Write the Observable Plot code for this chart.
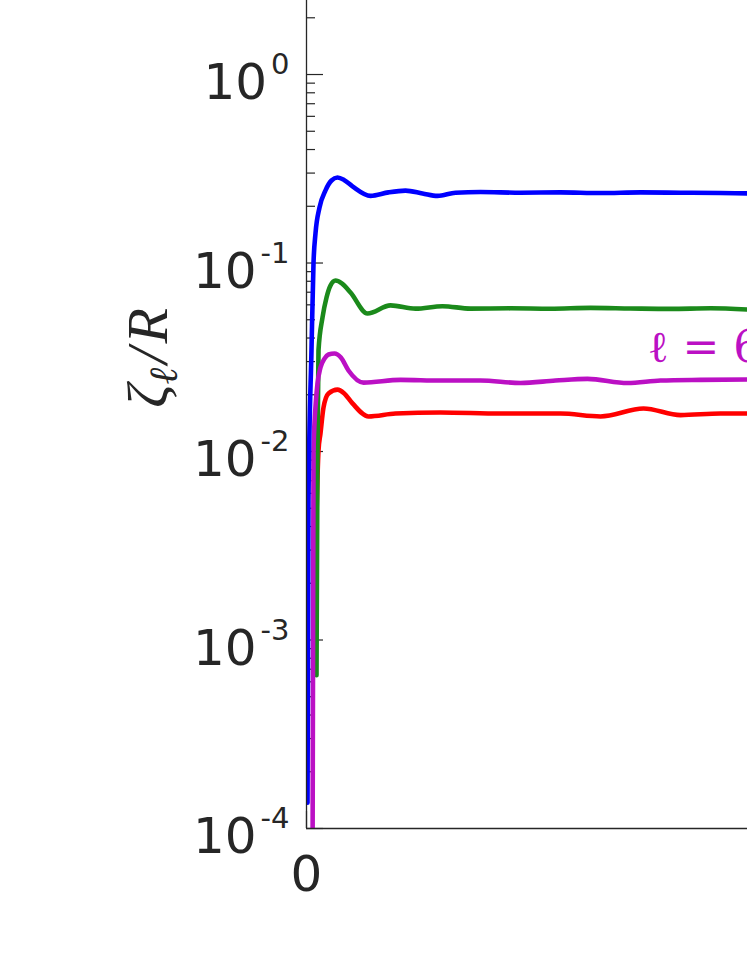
<!DOCTYPE html>
<html><head><meta charset="utf-8">
<script src="https://cdn.jsdelivr.net/npm/d3@7"></script>
<script src="https://cdn.jsdelivr.net/npm/@observablehq/plot@0.6"></script>
<style>html,body{margin:0;padding:0;background:#fff;overflow:hidden;}</style>
</head><body><div id="chart"></div>
<script>
// ---- data ----
const xDomain = [0, 10];
const yDomain = [1e-4, 2.47];
const decades = [1e-4, 1e-3, 1e-2, 1e-1, 1];
const minorMultipliers = [2, 3, 4, 5, 6, 7, 8, 9];
const xTicks = [0];
const xTickLabels = ["0"];

const seriesNames = ["s_red", "s_green", "s_magenta", "s_blue"];
const seriesColors = ["#ff0000", "#1b8a1b", "#bb10c4", "#0000ff"];

const blueT = [0.023, 0.045, 0.113, 0.159, 0.204, 0.295, 0.431, 0.567, 0.703, 0.85, 1.043, 1.451, 1.859, 2.245, 2.630, 2.971, 3.379, 3.946, 4.853, 5.760, 6.667, 7.574, 8.481, 9.388, 10];
const blueV = [1.37e-4, 5.5e-3, 0.0344, 0.1, 0.1436, 0.197, 0.243, 0.274, 0.284, 0.276, 0.255, 0.227, 0.237, 0.242, 0.234, 0.227, 0.236, 0.238, 0.236, 0.237, 0.235, 0.237, 0.236, 0.235, 0.234];

const greenT = [0.227, 0.249, 0.272, 0.363, 0.454, 0.544, 0.658, 0.80, 0.998, 1.383, 1.905, 2.472, 3.084, 3.719, 4.626, 5.533, 6.440, 7.347, 8.254, 9.161, 10];
const greenV = [6.5e-4, 0.0101, 0.0344, 0.0514, 0.0656, 0.076, 0.0807, 0.078, 0.0698, 0.054, 0.0596, 0.0573, 0.059, 0.0573, 0.0575, 0.0572, 0.0578, 0.0574, 0.0571, 0.0575, 0.0567];

const magentaT = [0.136, 0.159, 0.215, 0.249, 0.317, 0.408, 0.499, 0.635, 0.78, 0.952, 1.293, 2.132, 3.039, 3.946, 4.853, 5.646, 6.372, 7.279, 8.027, 8.934, 10];
const magentaV = [5e-5, 0.0101, 0.0187, 0.0229, 0.0279, 0.0311, 0.0327, 0.0331, 0.0315, 0.0269, 0.0232, 0.0240, 0.0238, 0.0238, 0.0231, 0.0238, 0.0243, 0.0231, 0.0238, 0.0240, 0.0241];

const redT = [0.204, 0.272, 0.317, 0.385, 0.499, 0.703, 0.85, 1.043, 1.406, 2.018, 3.039, 4.399, 5.760, 6.667, 7.642, 8.481, 9.388, 10];
const redV = [2.64e-3, 0.0101, 0.01246, 0.0171, 0.0203, 0.0213, 0.0204, 0.0180, 0.01535, 0.0159, 0.0161, 0.0159, 0.0159, 0.01535, 0.0169, 0.0156, 0.0159, 0.0159];

const annotText = ["ℓ = 6"];
const annotX = [7.73];
const annotY = [0.0355];

// ---- build tables ----
const seriesData = {s_red: [redT, redV], s_green: [greenT, greenV], s_magenta: [magentaT, magentaV], s_blue: [blueT, blueV]};
const rows = seriesNames.flatMap(name => seriesData[name][0].map((t, i) => ({t, v: seriesData[name][1][i], s: name})));
const minorTicks = decades.flatMap(d => minorMultipliers.map(m => m * d)).filter(v => v <= yDomain[1]);
const annots = annotText.map((text, i) => ({text, t: annotX[i], v: annotY[i]}));

const W = 747, H = 967, mL = 306, mB = 139;
const plotW = W - mL, plotH = H - mB;
const ink = "#262626";

const chart = Plot.plot({
  width: W, height: H,
  marginLeft: mL, marginRight: 0, marginTop: 0, marginBottom: mB,
  style: {fontFamily: "DejaVu Sans", fontSize: "50px", color: ink, background: "#fff", overflow: "visible"},
  x: {domain: xDomain, label: null},
  y: {type: "log", domain: yDomain, label: null},
  color: {domain: seriesNames, range: seriesColors},
  marks: [
    Plot.ruleY(minorTicks, {insetRight: plotW - 9, stroke: ink, strokeWidth: 1.2}),
    Plot.ruleY(decades, {insetRight: plotW - 17, stroke: ink, strokeWidth: 1.2}),
    Plot.ruleX(xTicks, {insetTop: plotH - 17, stroke: ink, strokeWidth: 1.2}),
    Plot.line(rows, {x: "t", y: "v", z: "s", stroke: "s", strokeWidth: 4.6, curve: "monotone-x", clip: true, strokeLinejoin: "round"}),
    Plot.ruleX([xDomain[0]], {stroke: ink, strokeWidth: 1.3}),
    Plot.ruleY([yDomain[0]], {stroke: ink, strokeWidth: 1.3}),
    Plot.axisY(decades, {tickSize: 0, tickPadding: 17, dy: 8.5, fontSize: 50, tickFormat: d => "10|" + Math.round(Math.log10(d)), fill: ink}),
    Plot.axisX(xTicks, {tickSize: 0, tickPadding: 27, fontSize: 50, tickFormat: d => xTickLabels[xTicks.indexOf(d)], fill: ink}),
    Plot.text(annots, {x: "t", y: "v", text: "text", fill: "#bb10c4", textAnchor: "start", fontFamily: "DejaVu Serif", fontSize: 44})
  ]
});

document.getElementById("chart").appendChild(chart);

const svg = d3.select(chart);
svg.selectAll('g[aria-label="y-axis tick label"] text').each(function () {
  const s = this.textContent;
  if (!s.includes("|")) return;
  const [b, e] = s.split("|");
  this.textContent = b;
  d3.select(this).append("tspan").attr("dx", 4).attr("dy", -25).attr("font-size", 29).text(e);
});

const lab = svg.append("text")
  .attr("transform", "translate(167,358) rotate(-90)")
  .attr("text-anchor", "middle")
  .attr("font-family", "Liberation Serif, DejaVu Serif")
  .attr("font-style", "italic")
  .attr("font-size", 58)
  .attr("fill", ink);
lab.append("tspan").text("ζ");
lab.append("tspan").attr("font-size", 40).attr("dy", 10).attr("font-family", "DejaVu Serif").text("ℓ");
lab.append("tspan").attr("dy", -10).attr("dx", 4).text("/");
lab.append("tspan").attr("dx", 4).text("R");
</script>
</body></html>
